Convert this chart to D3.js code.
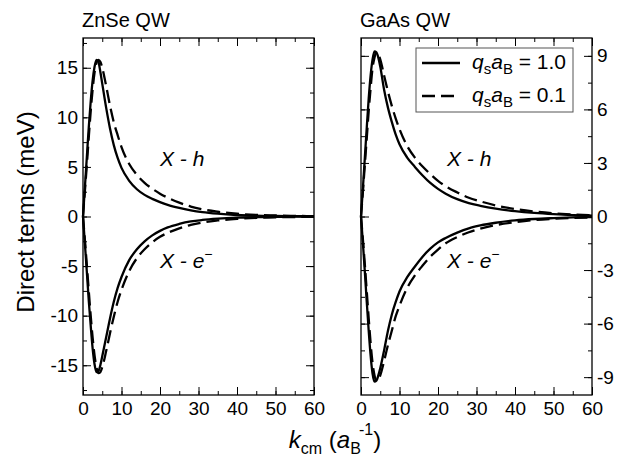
<!DOCTYPE html>
<html>
<head>
<meta charset="utf-8">
<script src="https://cdn.jsdelivr.net/npm/d3@7"></script>
<style>
  body { margin: 0; background: #fff; }
  text { font-family: "Liberation Sans", Arial, sans-serif; fill: #000; }
</style>
</head>
<body>
<svg id="chart" width="637" height="459"></svg>
<script>
// k_cm grid (a_B^-1)
var kValues = [0, 0.5, 1, 1.5, 2, 2.5, 3, 3.5, 4, 4.5, 5, 6, 7, 8, 9, 10, 12, 14, 16, 18, 20, 22, 25, 28, 31, 35, 40, 45, 50, 55, 60];

// ZnSe QW, direct terms (meV)
var znseHole10 = [0, 3.0, 6.0, 9.0, 11.6, 13.7, 15.1, 15.8, 15.6, 14.6, 13.4, 11.0, 8.9, 7.2, 5.9, 4.9, 3.6, 2.75, 2.18, 1.78, 1.45, 1.17, 0.86, 0.62, 0.44, 0.28, 0.15, 0.08, 0.05, 0.03, 0.02];
var znseHole01 = [0, 2.6, 5.2, 8.0, 10.6, 12.8, 14.5, 15.5, 15.8, 15.6, 15.0, 13.2, 11.2, 9.5, 8.2, 7.0, 5.3, 4.2, 3.4, 2.8, 2.3, 1.9, 1.4, 1.0, 0.72, 0.48, 0.28, 0.16, 0.1, 0.06, 0.04];
var znseElec10 = [0, -2.8, -5.6, -8.5, -11.0, -13.3, -14.9, -15.7, -15.6, -15.0, -14.1, -12.2, -10.3, -8.6, -7.2, -6.1, -4.4, -3.3, -2.5, -1.9, -1.45, -1.1, -0.75, -0.5, -0.35, -0.22, -0.12, -0.07, -0.04, -0.02, -0.01];
var znseElec01 = [0, -2.4, -4.9, -7.5, -10.0, -12.2, -14.0, -15.2, -15.8, -15.7, -15.2, -13.6, -11.8, -10.1, -8.6, -7.4, -5.5, -4.2, -3.3, -2.6, -2.05, -1.65, -1.2, -0.85, -0.6, -0.4, -0.24, -0.14, -0.08, -0.05, -0.03];

// GaAs QW, direct terms (meV)
var gaasHole10 = [0, 1.6, 3.3, 5.0, 6.6, 7.9, 8.8, 9.25, 9.2, 8.9, 8.4, 7.1, 6.1, 5.3, 4.6, 4.05, 3.3, 2.78, 2.3, 1.88, 1.55, 1.28, 0.97, 0.75, 0.6, 0.44, 0.3, 0.2, 0.13, 0.08, 0.05];
var gaasHole01 = [0, 1.4, 2.9, 4.4, 5.9, 7.2, 8.3, 8.9, 9.2, 9.1, 8.8, 7.9, 7.0, 6.2, 5.5, 4.9, 3.95, 3.3, 2.8, 2.38, 2.0, 1.7, 1.35, 1.05, 0.85, 0.62, 0.42, 0.28, 0.18, 0.11, 0.07];
var gaasElec10 = [0, -1.5, -3.1, -4.8, -6.4, -7.8, -8.8, -9.25, -9.2, -8.9, -8.5, -7.5, -6.4, -5.5, -4.8, -4.2, -3.4, -2.8, -2.25, -1.8, -1.45, -1.2, -0.9, -0.66, -0.5, -0.35, -0.22, -0.14, -0.09, -0.05, -0.03];
var gaasElec01 = [0, -1.3, -2.7, -4.2, -5.7, -7.1, -8.2, -8.9, -9.2, -9.15, -8.9, -8.1, -7.2, -6.4, -5.6, -5.0, -4.0, -3.3, -2.75, -2.25, -1.85, -1.5, -1.15, -0.88, -0.68, -0.48, -0.32, -0.2, -0.13, -0.08, -0.05];

var xTicks = [0, 10, 20, 30, 40, 50, 60];
var znseTicks = [-15, -10, -5, 0, 5, 10, 15];
var gaasTicks = [-9, -6, -3, 0, 3, 6, 9];

var svg = d3.select("#chart");
var plotTop = 38, plotBottom = 395;
var dash = "13,6";

function makeArray(start, stop, step) {
  var out = [];
  for (var v = start; v <= stop + 1e-9; v += step) out.push(+v.toFixed(3));
  return out;
}

function drawPanel(left, right, yMax, yTicks, yMinor, labelsRight, title, series) {
  var x = d3.scaleLinear().domain([0, 60]).range([left, right]);
  var y = d3.scaleLinear().domain([-yMax, yMax]).range([plotBottom, plotTop]);
  var g = svg.append("g");

  // minor ticks
  var xMinor = makeArray(0, 60, 5);
  g.append("g").attr("transform", "translate(0," + plotBottom + ")")
    .call(d3.axisBottom(x).tickValues(xMinor).tickSize(-4).tickFormat(""));
  g.append("g").attr("transform", "translate(0," + plotTop + ")")
    .call(d3.axisTop(x).tickValues(xMinor).tickSize(-4).tickFormat(""));
  g.append("g").attr("transform", "translate(" + left + ",0)")
    .call(d3.axisLeft(y).tickValues(yMinor).tickSize(-4).tickFormat(""));
  g.append("g").attr("transform", "translate(" + right + ",0)")
    .call(d3.axisRight(y).tickValues(yMinor).tickSize(-4).tickFormat(""));

  // major ticks
  g.append("g").attr("transform", "translate(0," + plotBottom + ")")
    .call(d3.axisBottom(x).tickValues(xTicks).tickSize(-8).tickPadding(7));
  g.append("g").attr("transform", "translate(0," + plotTop + ")")
    .call(d3.axisTop(x).tickValues(xTicks).tickSize(-8).tickFormat(""));
  g.append("g").attr("transform", "translate(" + left + ",0)")
    .call(d3.axisLeft(y).tickValues(yTicks).tickSize(-8).tickPadding(5)
      .tickFormat(labelsRight ? "" : function (d) { return d; }));
  g.append("g").attr("transform", "translate(" + right + ",0)")
    .call(d3.axisRight(y).tickValues(yTicks).tickSize(-8).tickPadding(5)
      .tickFormat(labelsRight ? function (d) { return d; } : ""));

  g.selectAll(".domain").remove();
  g.selectAll(".tick line").attr("stroke", "#000").attr("stroke-width", 1);
  g.selectAll(".tick text").style("font-size", "19px")
    .style("font-family", '"Liberation Sans", Arial, sans-serif').attr("fill", "#000");

  // frame
  g.append("rect")
    .attr("x", left).attr("y", plotTop)
    .attr("width", right - left).attr("height", plotBottom - plotTop)
    .attr("fill", "none").attr("stroke", "#000").attr("stroke-width", 1.3);

  var line = d3.line()
    .x(function (d, i) { return x(kValues[i]); })
    .y(function (d) { return y(d); })
    .curve(d3.curveMonotoneX);

  series.forEach(function (s) {
    g.append("path")
      .attr("d", line(s.values))
      .attr("fill", "none")
      .attr("stroke", "#000")
      .attr("stroke-width", 2.3)
      .attr("stroke-dasharray", s.dashed ? dash : null);
  });

  g.append("text").attr("x", left - 1).attr("y", 27)
    .style("font-size", "20px").text(title);
}

drawPanel(83, 314, 18, znseTicks, makeArray(-17.5, 17.5, 2.5), false, "ZnSe QW", [
  { values: znseHole10, dashed: false },
  { values: znseHole01, dashed: true },
  { values: znseElec10, dashed: false },
  { values: znseElec01, dashed: true }
]);

drawPanel(361, 592, 10, gaasTicks, makeArray(-9, 9, 1.5), true, "GaAs QW", [
  { values: gaasHole10, dashed: false },
  { values: gaasHole01, dashed: true },
  { values: gaasElec10, dashed: false },
  { values: gaasElec01, dashed: true }
]);

// X - h / X - e- labels
function termLabels(px) {
  svg.append("text").attr("x", px).attr("y", 166)
    .style("font-size", "21px").style("font-style", "italic").text("X - h");
  var t = svg.append("text").attr("x", px).attr("y", 268)
    .style("font-size", "21px").style("font-style", "italic");
  t.append("tspan").text("X - e");
  t.append("tspan").attr("dy", -9).style("font-size", "14px").style("font-style", "normal").text("\u2212");
}
termLabels(160);
termLabels(447);

// legend
var leg = svg.append("g");
leg.append("rect").attr("x", 416).attr("y", 48).attr("width", 157).attr("height", 64)
  .attr("fill", "#fff").attr("stroke", "#555").attr("stroke-width", 1);
var legendRows = [{ label: "1.0", dashed: false, y: 63 }, { label: "0.1", dashed: true, y: 96 }];
legendRows.forEach(function (r) {
  leg.append("line").attr("x1", 422).attr("x2", 460).attr("y1", r.y).attr("y2", r.y)
    .attr("stroke", "#000").attr("stroke-width", 2.3)
    .attr("stroke-dasharray", r.dashed ? dash : null);
  var t = leg.append("text").attr("x", 472).attr("y", r.y + 6).style("font-size", "21px");
  t.append("tspan").style("font-style", "italic").text("q");
  t.append("tspan").attr("dy", 5).style("font-size", "15px").text("s");
  t.append("tspan").attr("dy", -5).style("font-style", "italic").text("a");
  t.append("tspan").attr("dy", 5).style("font-size", "15px").text("B");
  t.append("tspan").attr("dy", -5).text(" = " + r.label);
});

// axis titles
svg.append("text")
  .attr("transform", "translate(34,212) rotate(-90)")
  .attr("text-anchor", "middle")
  .style("font-size", "24px")
  .text("Direct terms (meV)");

var xt = svg.append("text").attr("x", 335).attr("y", 448)
  .attr("text-anchor", "middle").style("font-size", "24px");
xt.append("tspan").style("font-style", "italic").text("k");
xt.append("tspan").attr("dy", 6).style("font-size", "16px").text("cm");
xt.append("tspan").attr("dy", -6).text(" (");
xt.append("tspan").style("font-style", "italic").text("a");
xt.append("tspan").attr("dy", 6).style("font-size", "16px").text("B");
xt.append("tspan").attr("dy", -19).attr("dx", -2).style("font-size", "16px").text("-1");
xt.append("tspan").attr("dy", 13).text(")");
</script>
</body>
</html>
